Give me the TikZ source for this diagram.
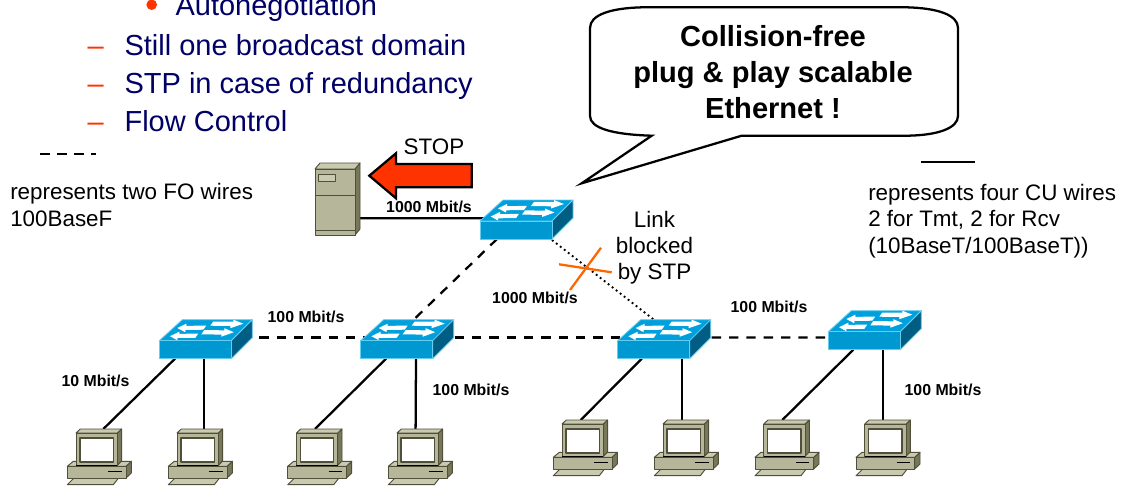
\documentclass[tikz,border=0pt]{standalone}
\usepackage{fontspec}
\setmainfont{Liberation Sans}
\usetikzlibrary{calc}
\definecolor{navytext}{HTML}{000066}
\definecolor{redbul}{HTML}{FF3300}
\definecolor{orangex}{HTML}{FF6600}
\definecolor{swfront}{HTML}{0098D0}
\definecolor{swtop}{HTML}{00A0DC}
\definecolor{swside}{HTML}{005E85}
\definecolor{swedge}{HTML}{66CCF0}
\definecolor{pclight}{HTML}{CACAB0}
\definecolor{pcmid}{HTML}{B6B69A}
\definecolor{pcdark}{HTML}{77775A}
\definecolor{pcline}{HTML}{4F4F3A}
\tikzset{
  x=0.75pt, y=-0.75pt,
  swnode/.style={inner sep=0pt,outer sep=0pt,minimum width=54pt,minimum height=13.5pt,anchor=north west},
  pcnode/.style={inner sep=0pt,outer sep=0pt,minimum width=48pt,minimum height=41.75pt,anchor=north west},
  srvnode/.style={inner sep=0pt,outer sep=0pt,minimum width=30pt,minimum height=49.5pt,anchor=north west},
  wire/.style={line width=1.7pt,black},
  fiber/.style={line width=1.7pt,black,dash pattern=on 7pt off 6pt},
  blocked/.style={line width=1.4pt,black,dash pattern=on 1.4pt off 2.4pt},
  speed/.style={font=\fontsize{11.9}{14}\selectfont\bfseries,inner sep=0pt},
  body/.style={font=\fontsize{16.8}{19.6}\selectfont,inner sep=0pt,align=left,anchor=base west},
  callout/.style={font=\fontsize{21.8}{27}\selectfont\bfseries,inner sep=0pt,align=center},
  listtext/.style={font=\fontsize{21.75}{26}\selectfont,text=navytext,inner sep=0pt,anchor=base west},
  listmark/.style={font=\fontsize{21.75}{26}\selectfont,text=redbul,inner sep=0pt,anchor=base west},
  swarrow/.style={fill=white,draw=none},
  swicon/.pic={
    \draw[swedge,line width=0.6pt,fill=swtop,line join=round] (0,0)--(23,-21)--(93,-21)--(72,0)--cycle;
    \draw[swedge,line width=0.6pt,fill=swside,line join=round] (72,0)--(93,-21)--(93,-3)--(72,18)--cycle;
    \draw[swedge,line width=0.6pt,fill=swfront] (0,0) rectangle (72,18);
    \fill[swarrow] (18,-12.7)--(27,-17)--(27,-14.8)--(47,-15.2)--(44,-11)--(26,-10.7)--(26,-8.5)--cycle;
    \fill[swarrow] (84,-17)--(74,-21)--(74,-19)--(54,-19.2)--(51,-15)--(71,-14.7)--(71,-12.5)--cycle;
    \fill[swarrow] (10.7,-4.5)--(20,-9)--(20,-6.8)--(39,-7.2)--(36,-2.9)--(18,-2.7)--(18,-0.5)--cycle;
    \fill[swarrow] (74.5,-8.5)--(65,-12.5)--(65,-10.4)--(45,-10.6)--(42,-6.4)--(62,-6.1)--(62,-4)--cycle;
  },
  pcicon/.pic={
    \begin{scope}[draw=pcline,line width=0.7pt,line join=round]
    \filldraw[fill=pclight] (0,55.7)--(7.7,48)--(52,48)--(46,55.7)--cycle;
    \filldraw[fill=pcdark] (58.7,37.3)--(64,32.3)--(64,44)--(58.7,49)--cycle;
    \filldraw[fill=pclight] (0,37.3)--(6,32.3)--(64,32.3)--(58.7,37.3)--cycle;
    \filldraw[fill=pcmid] (0,37.3) rectangle (58.7,49);
    \filldraw[fill=pcdark] (50,4)--(54.3,0)--(54.3,32)--(50,36.3)--cycle;
    \filldraw[fill=pclight] (8.7,4)--(13,0)--(54.3,0)--(50,4)--cycle;
    \filldraw[fill=pcmid] (8.7,4) rectangle (50,36.3);
    \draw[line width=0.8pt,fill=white] (12.7,9) rectangle (46,33);
    \draw[line width=0.9pt,black] (8.7,36.6)--(50,36.6);
    \draw[line width=0.8pt,black] (41,42.7)--(54.3,42.7);
    \end{scope}
  },
  srvicon/.pic={
    \begin{scope}[draw=pcline,line width=0.7pt,line join=round]
    \filldraw[fill=pcdark] (40,0)--(45,-6)--(45,60)--(40,66)--cycle;
    \filldraw[fill=pclight] (0,0)--(5,-6)--(45,-6)--(40,0)--cycle;
    \filldraw[fill=pcmid] (0,0) rectangle (40,66);
    \draw (0,26)--(40,26);
    \draw (0,61.7)--(40,61.7);
    \filldraw[fill=pclight] (3.3,5) rectangle (20.7,12.7);
    \end{scope}
  }
}
\begin{document}
\begin{tikzpicture}
\useasboundingbox (0,0) rectangle (1121,486);
\fill[white] (0,0) rectangle (1121,486);
% device anchors
\node[swnode] (s0) at (480,221) {};
\node[swnode] (s1) at (159.3,340.7) {};
\node[swnode] (s2) at (360.7,340.7) {};
\node[swnode] (s3) at (617.7,340.7) {};
\node[swnode] (s4) at (828.3,331.7) {};
\node[srvnode] (srv) at (315,169) {};
\node[pcnode] (p1) at (67.3,429) {};
\node[pcnode] (p2) at (168.3,429) {};
\node[pcnode] (p3) at (287.7,429) {};
\node[pcnode] (p4) at (388.3,429) {};
\node[pcnode] (p5) at (553.3,420) {};
\node[pcnode] (p6) at (654.3,420) {};
\node[pcnode] (p7) at (755,420) {};
\node[pcnode] (p8) at (856,420) {};
% connectors
\draw[wire] ($(s1.south west)+(15.7,0)$) -- ($(p1.north west)+(36,0)$);
\draw[wire] ($(s1.south west)+(45,0)$) -- ($(p2.north west)+(36,0)$);
\draw[wire] ($(s2.south west)+(25.3,0)$) -- ($(p3.north west)+(27.3,0)$);
\draw[wire] ($(s2.south west)+(55.3,0)$) -- ($(p4.north west)+(27.3,0)$);
\draw[wire] ($(s3.south west)+(24,0)$) -- ($(p5.north west)+(27.4,0)$);
\draw[wire] ($(s3.south west)+(64.3,0)$) -- ($(p6.north west)+(27.7,0)$);
\draw[wire] ($(s4.south west)+(25,0)$) -- ($(p7.north west)+(27.3,0)$);
\draw[wire] ($(s4.south west)+(55,0)$) -- ($(p8.north west)+(27.3,0)$);
\draw[wire] ($(srv.north east)+(5,49.3)$) -- ($(s0.north west)+(5,-2.7)$);
\draw[fiber] ($(s1.north east)+(28,-3.2)$) -- ($(s2.north west)+(5,-3.2)$);
\draw[fiber] ($(s2.north east)+(22,-3.2)$) -- ($(s3.north west)+(5,-3.2)$);
\draw[fiber] ($(s3.north east)+(22,-3.2)$) -- ($(s4.north west)+(5,5.8)$);
\draw[fiber] ($(s0.south west)+(17,0)$) -- ($(s2.north west)+(54,-22)$);
\draw[blocked] ($(s0.south east)+(0,1)$) -- ($(s3.north west)+(35.5,-21.5)$);
% icons
\pic at (s0.north west) {swicon};
\pic at (s1.north west) {swicon};
\pic at (s2.north west) {swicon};
\pic at (s3.north west) {swicon};
\pic at (s4.north west) {swicon};
\pic at (srv.north west) {srvicon};
\pic at (p1.north west) {pcicon};
\pic at (p2.north west) {pcicon};
\pic at (p3.north west) {pcicon};
\pic at (p4.north west) {pcicon};
\pic at (p5.north west) {pcicon};
\pic at (p6.north west) {pcicon};
\pic at (p7.north west) {pcicon};
\pic at (p8.north west) {pcicon};
% list
\fill[redbul] (151.7,4.7) circle (5.3);
\node[listtext] (l0) at (175.3,15.7) {Autonegotiation};
\node[listmark] (m1) at (87.3,55) {–};
\node[listtext] (l1) at (124.3,55) {Still one broadcast domain};
\node[listmark] (m2) at (87.3,93.3) {–};
\node[listtext] (l2) at (124.3,93.3) {STP in case of redundancy};
\node[listmark] (m3) at (87.3,131.7) {–};
\node[listtext] (l3) at (124.3,131.7) {Flow Control};
% legends
\coordinate (da) at (40,154);
\coordinate (db) at (96,154);
\coordinate (ca) at (921,162);
\coordinate (cb) at (975,162);
\draw[line width=1.7pt,dash pattern=on 7.5pt off 5.2pt] (da) -- (db);
\draw[wire] (ca) -- (cb);
\node[body] (t1) at (10,226) {represents two FO wires\\100BaseF};
\node[body] (t2) at (868,253) {represents four CU wires\\2 for Tmt, 2 for Rcv\\(10BaseT/100BaseT))};
% callout
\draw[line width=1.7pt,fill=white,line join=miter]
  (643,7.3) -- (906,7.3) .. controls (938,8) and (958,15) .. (958,28)
  -- (958,116) .. controls (958,128) and (938,135.5) .. (906,135.7)
  -- (741.7,135.7) -- (581.7,183.3) -- (651.7,135.7)
  .. controls (612,134.5) and (590,128) .. (590,116)
  -- (590,28) .. controls (590,15) and (610,8) .. (643,7.3) -- cycle;
\node[callout] (c1) at (773,72.5) {Collision-free\\plug \& play scalable\\Ethernet !};
% stop arrow
\draw[line width=1.7pt,fill=redbul,line join=miter] (369.3,175.7)--(396,153.3)--(396,164)--(471.7,164)--(471.7,187.3)--(396,187.3)--(396,198.3)--cycle;
\node[inner sep=0pt,font=\fontsize{16.8}{20}\selectfont] (stop) at (434,146.5) {STOP};
% speeds
\node[speed] (v1) at (429,207) {1000 Mbit/s};
\node[speed] (v2) at (535,298) {1000 Mbit/s};
\node[speed] (v3) at (306,317) {100 Mbit/s};
\node[speed] (v4) at (769,307) {100 Mbit/s};
\node[speed] (v5) at (471,390) {100 Mbit/s};
\node[speed] (v6) at (943,390) {100 Mbit/s};
\node[speed] (v7) at (95.5,381) {10 Mbit/s};
% blocked
\node[inner sep=0pt,align=center,font=\fontsize{16.8}{19.6}\selectfont] (b1) at (654.5,248) {Link\\blocked\\by STP};
\coordinate (xa) at (601,247.7);
\coordinate (xb) at (570,290);
\coordinate (xc) at (559,264.3);
\coordinate (xd) at (611.7,272.3);
\draw[orangex,line width=1.7pt] (xa) -- (xb);
\draw[orangex,line width=1.7pt] (xc) -- (xd);
\end{tikzpicture}
\end{document}
